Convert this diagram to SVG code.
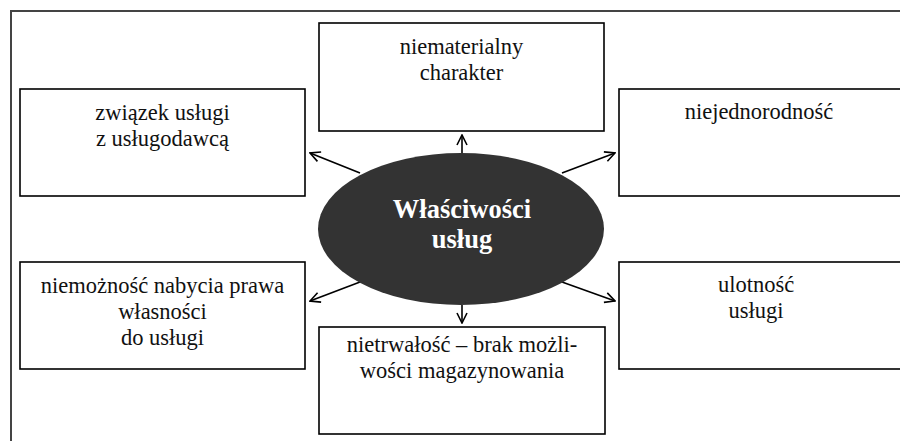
<svg xmlns="http://www.w3.org/2000/svg" width="900" height="441" viewBox="0 0 900 441">
  <defs>
    <style>
      .frame { fill: none; stroke: #444; stroke-width: 2; }
      .box { fill: #fff; stroke: #000; stroke-width: 1.6; }
      .lbl { font-family: 'Liberation Serif', Tinos, 'Times New Roman', Times, 'DejaVu Serif', serif; font-size: 22.5px; fill: #111; text-anchor: middle; }
      .hub { fill: #333; }
      .hubtxt { font-family: 'Liberation Serif', Tinos, 'Times New Roman', Times, 'DejaVu Serif', serif; font-size: 26.5px; font-weight: bold; fill: #fff; text-anchor: middle; }
      .link { stroke: #000; stroke-width: 1.6; fill: none; marker-end: url(#open); }
    </style>
    <marker id="open" viewBox="0 0 12 12" refX="11" refY="6" markerWidth="12" markerHeight="12" markerUnits="userSpaceOnUse" orient="auto">
      <path d="M1,1 L11,6 L1,11" fill="none" stroke="#000" stroke-width="1.6"/>
    </marker>
  </defs>

  <rect width="900" height="441" fill="#fff"/>
  <!-- outer frame (only top and left edges fall inside the view) -->
  <path class="frame" d="M11,441 V11 H900"/>

  <g id="connectors">
    <line class="link" x1="462" y1="153" x2="462" y2="135"/>
    <line class="link" x1="462" y1="305" x2="462" y2="323"/>
    <line class="link" x1="360" y1="173" x2="310" y2="153"/>
    <line class="link" x1="562" y1="173" x2="615" y2="153"/>
    <line class="link" x1="360" y1="282" x2="310" y2="301"/>
    <line class="link" x1="562" y1="282" x2="615" y2="301"/>
  </g>

  <g id="hub">
    <ellipse class="hub" cx="461" cy="229" rx="143" ry="76"/>
    <text class="hubtxt" x="462" y="218">Właściwości</text>
    <text class="hubtxt" x="462" y="248">usług</text>
  </g>

  <g id="n-niematerialny">
    <rect class="box" x="319" y="23" width="285" height="108"/>
    <text class="lbl" x="461.5" y="54">niematerialny</text>
    <text class="lbl" x="461.5" y="80">charakter</text>
  </g>

  <g id="n-zwiazek">
    <rect class="box" x="20" y="89" width="285" height="107"/>
    <text class="lbl" x="162.5" y="120">związek usługi</text>
    <text class="lbl" x="162.5" y="146">z usługodawcą</text>
  </g>

  <g id="n-niejednorodnosc">
    <rect class="box" x="619" y="89" width="290" height="107"/>
    <text class="lbl" x="759" y="119">niejednorodność</text>
  </g>

  <g id="n-niemoznosc">
    <rect class="box" x="20" y="262" width="285" height="107"/>
    <text class="lbl" x="162.5" y="293">niemożność nabycia prawa</text>
    <text class="lbl" x="162.5" y="319">własności</text>
    <text class="lbl" x="162.5" y="345">do usługi</text>
  </g>

  <g id="n-nietrwalosc">
    <rect class="box" x="319" y="327" width="286" height="107"/>
    <text class="lbl" x="462" y="352">nietrwałość – brak możli-</text>
    <text class="lbl" x="462" y="378">wości magazynowania</text>
  </g>

  <g id="n-ulotnosc">
    <rect class="box" x="619" y="262" width="290" height="107"/>
    <text class="lbl" x="756" y="292">ulotność</text>
    <text class="lbl" x="756" y="318">usługi</text>
  </g>
</svg>
